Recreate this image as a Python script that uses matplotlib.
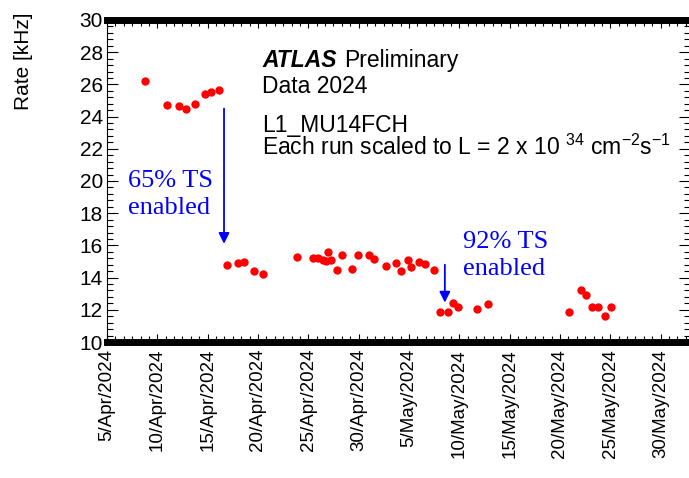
import matplotlib
matplotlib.use("Agg")
import matplotlib.pyplot as plt
import matplotlib.dates as mdates
import matplotlib.ticker as ticker
import pandas as pd

plt.rcParams['font.family'] = 'Liberation Sans'
plt.rcParams['mathtext.fontset'] = 'custom'
plt.rcParams['mathtext.rm'] = 'Liberation Sans'

# Run start times and L1_MU14FCH rates (kHz), scaled to L = 2e34
run_times = [
    "2024-04-08 18:30", "2024-04-10 23:45", "2024-04-12 03:00", "2024-04-12 20:00",
    "2024-04-13 18:00", "2024-04-14 17:30", "2024-04-15 09:00", "2024-04-16 02:30",
    "2024-04-16 22:30", "2024-04-17 23:45", "2024-04-18 15:30", "2024-04-19 15:00",
    "2024-04-20 12:00", "2024-04-23 20:30", "2024-04-25 11:30", "2024-04-25 23:00",
    "2024-04-26 11:00", "2024-04-26 22:30", "2024-04-26 18:45", "2024-04-27 06:30",
    "2024-04-27 20:30", "2024-04-28 07:15", "2024-04-29 08:30", "2024-04-29 23:15",
    "2024-05-01 00:00", "2024-05-01 13:30", "2024-05-02 17:30", "2024-05-03 17:00",
    "2024-05-04 05:00", "2024-05-04 22:00", "2024-05-05 05:45", "2024-05-06 00:00",
    "2024-05-06 14:30", "2024-05-07 11:00",
    "2024-05-08 02:30", "2024-05-08 21:30", "2024-05-09 09:00", "2024-05-09 21:30",
    "2024-05-11 18:00", "2024-05-12 19:45", "2024-05-20 22:15", "2024-05-22 01:45",
    "2024-05-22 13:30", "2024-05-23 05:00", "2024-05-23 19:15", "2024-05-24 10:45",
    "2024-05-25 02:30",
]
rates = [
    26.23, 24.70, 24.66, 24.49, 24.76, 25.40, 25.55, 25.65,
    14.78, 14.93, 14.97, 14.39, 14.20, 15.30, 15.24, 15.20,
    15.09, 15.61, 15.03, 15.09, 14.47, 15.39, 14.52, 15.40,
    15.40, 15.14, 14.72, 14.93, 14.39, 15.09, 14.64, 14.99,
    14.83, 14.47,
    11.88, 11.88, 12.40, 12.16, 12.03, 12.36, 11.88, 13.23,
    12.92, 12.16, 12.19, 11.61, 12.16,
]

# trigger-scheme changes: label, arrow x, arrow start / end rate
ts_labels = ["65% TS\nenabled", "92% TS\nenabled"]
ts_arrow_time = ["2024-04-16 15:00", "2024-05-08 13:30"]
ts_arrow_from = [24.50, 14.80]
ts_arrow_to = [16.10, 12.45]
ts_text_time = ["2024-04-07 01:00", "2024-05-10 08:00"]
ts_text_top = [20.70, 16.90]

x_start = pd.Timestamp("2024-04-05")
x_end = pd.Timestamp("2024-06-01 22:00")
major_days = pd.date_range("2024-04-05", "2024-05-30", freq="5D")

W, H = 689, 478
fig = plt.figure(figsize=(W / 100, H / 100), dpi=100)
ax = fig.add_axes([107 / W, (H - 342) / H, (690 - 107) / W, (342 - 20) / H])

times = pd.to_datetime(run_times)
ax.plot(times, rates, 'o', color='#ff0000', markersize=6, markeredgewidth=0)

for lab, at, y0, y1, tt, ty in zip(ts_labels, ts_arrow_time, ts_arrow_from,
                                   ts_arrow_to, ts_text_time, ts_text_top):
    xa = pd.Timestamp(at)
    ax.annotate('', xy=(xa, y1), xytext=(xa, y0),
                arrowprops=dict(arrowstyle='-|>', color='#0000ff', lw=1.3,
                                mutation_scale=16, shrinkA=0, shrinkB=0))
    ax.text(pd.Timestamp(tt), ty, lab, color='#0000ff', family='Liberation Serif',
            fontsize=19, ha='left', va='top', linespacing=1.3)

ax.set_xlim(x_start, x_end)
ax.set_ylim(10, 30)

ax.xaxis.set_major_locator(ticker.FixedLocator(mdates.date2num(major_days)))
ax.xaxis.set_minor_locator(ticker.AutoMinorLocator(6))
ax.xaxis.set_major_formatter(ticker.FuncFormatter(
    lambda v, p: (lambda d: f"{d.day}/{d:%b}/{d.year}")(mdates.num2date(v))))
ax.yaxis.set_major_locator(ticker.MultipleLocator(2))
ax.yaxis.set_minor_locator(ticker.AutoMinorLocator(5))

ax.tick_params(axis='both', which='both', direction='in', top=True, right=True,
               width=0.8, colors='black')
ax.tick_params(axis='y', which='major', length=8, labelsize=15, pad=3)
ax.tick_params(axis='y', which='minor', length=4)
ax.tick_params(axis='x', which='major', length=6, labelsize=13.5, pad=5,
               labelrotation=90)
ax.tick_params(axis='x', which='minor', length=4)

for side in ['top', 'bottom']:
    ax.spines[side].set_linewidth(5)
for side in ['left', 'right']:
    ax.spines[side].set_linewidth(0.8)

ax.set_ylabel('Rate [kHz]', fontsize=15, loc='top')
ax.yaxis.set_label_coords(-74 / 583, 1 + 7 / 322)

fs = 16.5
fig.text(262 / W, 1 - 67 / H, 'ATLAS', fontsize=fs, fontweight='bold',
         fontstyle='italic', ha='left', va='baseline')
fig.text(344 / W, 1 - 67 / H, 'Preliminary', fontsize=fs, ha='left', va='baseline')
fig.text(262 / W, 1 - 93 / H, 'Data 2024', fontsize=fs, ha='left', va='baseline')
fig.text(262 / W, 1 - 132 / H, 'L1_MU14FCH', fontsize=fs, ha='left', va='baseline')
fig.text(262 / W, 1 - 155 / H,
         r'Each run scaled to L = 2 x 10 $^{34}$ cm$^{-2}$s$^{-1}$',
         fontsize=fs, ha='left', va='baseline')

fig.savefig('out.png', dpi=100)
